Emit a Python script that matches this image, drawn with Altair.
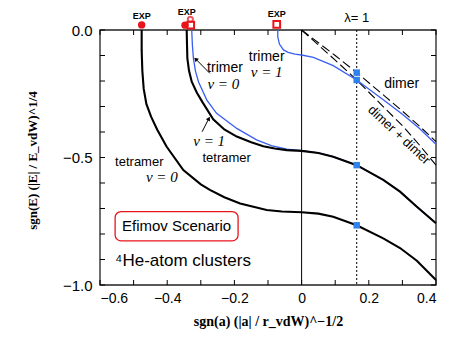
import altair as alt
import pandas as pd

# ---------------- data ----------------
tet0_x = [-0.476, -0.476, -0.474, -0.470, -0.462, -0.448, -0.430, -0.402, -0.352, -0.300,
          -0.273, -0.230, -0.183, -0.104, -0.059, 0.0, 0.05, 0.094, 0.164, 0.243, 0.293, 0.343, 0.4]
tet0_y = [0.0, -0.08, -0.16, -0.23, -0.29, -0.34, -0.39, -0.457, -0.549, -0.605,
          -0.627, -0.656, -0.680, -0.706, -0.712, -0.715, -0.720, -0.732, -0.766, -0.817, -0.855, -0.905, -0.98]

tet1_x = [-0.342, -0.341, -0.340, -0.335, -0.327, -0.312, -0.296, -0.263, -0.230, -0.193, -0.150,
          -0.114, -0.080, -0.044, 0.0, 0.05, 0.094, 0.164, 0.243, 0.293, 0.343, 0.4]
tet1_y = [0.0, -0.06, -0.111, -0.16, -0.203, -0.245, -0.281, -0.350, -0.390, -0.418, -0.440,
          -0.456, -0.465, -0.471, -0.474, -0.482, -0.497, -0.53, -0.588, -0.634, -0.693, -0.758]

tri0_x = [-0.327, -0.325, -0.322, -0.316, -0.307, -0.282, -0.253, -0.193, -0.134, -0.090, -0.044,
          0.0, 0.05, 0.094, 0.164, 0.243, 0.293, 0.343, 0.4]
tri0_y = [0.0, -0.06, -0.111, -0.16, -0.203, -0.275, -0.327, -0.386, -0.431, -0.453, -0.467,
          -0.473, -0.482, -0.497, -0.53, -0.588, -0.634, -0.693, -0.758]

tri1_x = [-0.071, -0.071, -0.066, -0.054, -0.040, -0.020, 0.0, 0.035, 0.094, 0.164, 0.25, 0.3, 0.35, 0.4]
tri1_y = [0.0, -0.026, -0.055, -0.078, -0.088, -0.095, -0.098, -0.107, -0.140, -0.196, -0.280, -0.330, -0.385, -0.448]

dimer_x = [0.0, 0.05, 0.1, 0.164, 0.25, 0.3, 0.35, 0.4]
dimer_y = [0.0, -0.05, -0.10, -0.167, -0.262, -0.318, -0.376, -0.438]

dd_x = [0.0, 0.1, 0.164, 0.25, 0.3, 0.35, 0.4]
dd_y = [0.0, -0.118, -0.196, -0.31, -0.375, -0.45, -0.53]

lam_x = 0.164
lam_pts_y = [-0.167, -0.196, -0.53, -0.766]

exp_fill_x = [-0.476, -0.347]
exp_fill_y = [0.020, 0.019]
exp_opencirc_x = [-0.331]
exp_opencirc_y = [0.042]
exp_opensq_x = [-0.330, -0.074]
exp_opensq_y = [0.019, 0.022]
exp_label_x = [-0.476, -0.342, -0.074]
exp_label_y = [0.056, 0.072, 0.064]

x_ticks = [-0.6, -0.5, -0.4, -0.3, -0.2, -0.1, 0.0, 0.1, 0.2, 0.3, 0.4]
x_labels = [-0.6, -0.4, -0.2, 0.0, 0.2, 0.4]
y_ticks = [-1.0, -0.9, -0.8, -0.7, -0.6, -0.5, -0.4, -0.3, -0.2, -0.1, 0.0]
y_labels = [-1.0, -0.5, 0.0]

# ---------------- layout ----------------
W, H = 336, 255
XMIN, XMAX, YMIN, YMAX = -0.6, 0.4, -1.0, 0.0
tlx = 5 / W * (XMAX - XMIN)
tly = 5 / H * (YMAX - YMIN)

xs = alt.Scale(domain=[XMIN, XMAX], nice=False, zero=False)
ys = alt.Scale(domain=[YMIN, YMAX], nice=False, zero=False)

XAXIS = alt.Axis(
    values=x_labels, ticks=False, domain=False, grid=False,
    labelExpr="datum.value == 0 ? '0' : format(datum.value, '.1f')",
    labelFontSize=14, labelFont="Liberation Sans", labelColor="black", labelPadding=6,
    title="sgn(a) (|a| / r_vdW)^−1/2", titleFont="Liberation Serif", titleFontSize=14,
    titleFontWeight="bold", titleColor="black", titleX=168, titleY=36,
    titleAlign="center", titleBaseline="middle")
YAXIS = alt.Axis(
    values=y_labels, ticks=False, domain=False, grid=False, format=".1f",
    labelFontSize=15, labelFont="Liberation Sans", labelColor="black", labelPadding=8,
    title="sgn(E) (|E| / E_vdW)^1/4", titleFont="Liberation Serif", titleFontSize=13,
    titleFontWeight="bold", titleColor="black", titleX=-68, titleY=130,
    titleAngle=-90, titleAlign="center", titleBaseline="middle")


def X(f="x"):
    return alt.X(f"{f}:Q", scale=xs, axis=XAXIS)


def Y(f="y"):
    return alt.Y(f"{f}:Q", scale=ys, axis=YAXIS)


def curve(xv, yv, name):
    return pd.DataFrame({"x": xv, "y": yv, "i": range(len(xv)), "s": name})


BLUE = "#3a5ff0"
SQ = "#2f82ee"
RED = "#e8141c"

# ticks (inward)
tick_df = pd.concat([
    pd.DataFrame({"x": x_ticks, "x2": x_ticks, "y": [YMIN] * len(x_ticks), "y2": [YMIN + tly] * len(x_ticks)}),
    pd.DataFrame({"x": x_ticks, "x2": x_ticks, "y": [YMAX] * len(x_ticks), "y2": [YMAX - tly] * len(x_ticks)}),
    pd.DataFrame({"x": [XMIN] * len(y_ticks), "x2": [XMIN + tlx] * len(y_ticks), "y": y_ticks, "y2": y_ticks}),
    pd.DataFrame({"x": [XMAX] * len(y_ticks), "x2": [XMAX - tlx] * len(y_ticks), "y": y_ticks, "y2": y_ticks}),
])
ticks = alt.Chart(tick_df).mark_rule(color="black", strokeWidth=1).encode(
    x=X(), x2="x2:Q", y=Y(), y2="y2:Q")

# frame
frame_df = pd.DataFrame({"x": [XMIN], "x2": [XMAX], "y": [YMIN], "y2": [YMAX]})
frame = alt.Chart(frame_df).mark_rect(fill=None, stroke="#222222", strokeWidth=1.3).encode(
    x=X(), x2="x2:Q", y=Y(), y2="y2:Q")

# vertical lines
vzero = alt.Chart(pd.DataFrame({"x": [0.0], "y": [YMAX], "y2": [YMIN]})).mark_rule(
    color="black", strokeWidth=1).encode(x=X(), y=Y(), y2="y2:Q")
vlam = alt.Chart(pd.DataFrame({"x": [lam_x], "y": [YMAX], "y2": [YMIN]})).mark_rule(
    color="black", strokeWidth=1, strokeDash=[2, 2]).encode(x=X(), y=Y(), y2="y2:Q")

# dashed dimer lines
dash_df = pd.concat([curve(dimer_x, dimer_y, "dimer"), curve(dd_x, dd_y, "dd")])
dashed = alt.Chart(dash_df).mark_line(color="black", strokeWidth=1.1, strokeDash=[9, 4]).encode(
    x=X(), y=Y(), order="i:Q", detail="s:N")

blue_df = pd.concat([curve(tri0_x, tri0_y, "t0"), curve(tri1_x, tri1_y, "t1")])
blue = alt.Chart(blue_df).mark_line(color=BLUE, strokeWidth=1.3).encode(
    x=X(), y=Y(), order="i:Q", detail="s:N")

black_df = pd.concat([curve(tet0_x, tet0_y, "q0"), curve(tet1_x, tet1_y, "q1")])
black = alt.Chart(black_df).mark_line(color="black", strokeWidth=2.1).encode(
    x=X(), y=Y(), order="i:Q", detail="s:N")

squares = alt.Chart(pd.DataFrame({"x": [lam_x] * len(lam_pts_y), "y": lam_pts_y})).mark_square(
    color=SQ, size=42, opacity=1).encode(x=X(), y=Y())

# EXP markers
exp_fill = alt.Chart(pd.DataFrame({"x": exp_fill_x, "y": exp_fill_y})).mark_circle(
    color=RED, size=55, opacity=1).encode(x=X(), y=Y())
exp_oc = alt.Chart(pd.DataFrame({"x": exp_opencirc_x, "y": exp_opencirc_y})).mark_point(
    shape="circle", color=RED, size=26, strokeWidth=2, filled=False).encode(x=X(), y=Y())
exp_sq = alt.Chart(pd.DataFrame({"x": exp_opensq_x, "y": exp_opensq_y})).mark_point(
    shape="square", color=RED, size=45, strokeWidth=2, filled=False, fill="white", fillOpacity=1).encode(x=X(), y=Y())
exp_lbl = alt.Chart(pd.DataFrame({"x": exp_label_x, "y": exp_label_y, "t": ["EXP"] * 3})).mark_text(
    font="Liberation Sans", fontSize=9, fontWeight="bold", color="black").encode(x=X(), y=Y(), text="t:N")

lam_lbl = alt.Chart(pd.DataFrame({"x": [lam_x], "y": [0.047], "t": ["λ= 1"]})).mark_text(
    font="Liberation Sans", fontSize=13, color="black").encode(x=X(), y=Y(), text="t:N")

# annotation texts
sans_df = pd.DataFrame({
    "x": [-0.228, -0.104, -0.223, -0.483, 0.298],
    "y": [-0.150, -0.107, -0.503, -0.516, -0.213],
    "t": ["trimer", "trimer", "tetramer", "tetramer", "dimer"],
    "fs": [14, 14, 13, 13, 14],
})
sans = alt.Chart(sans_df).mark_text(font="Liberation Sans", color="black").encode(
    x=X(), y=Y(), text="t:N", size=alt.Size("fs:Q", scale=None, legend=None))

serif_df = pd.DataFrame({
    "x": [-0.233, -0.104, -0.275, -0.416],
    "y": [-0.211, -0.164, -0.434, -0.578],
    "t": ["v = 0", "v = 1", "v = 1", "v = 0"],
})
serif = alt.Chart(serif_df).mark_text(font="Liberation Serif", fontStyle="italic", fontSize=15,
                                      color="black").encode(x=X(), y=Y(), text="t:N")

dd_lbl = alt.Chart(pd.DataFrame({"x": [0.290], "y": [-0.412], "t": ["dimer + dimer"]})).mark_text(
    font="Liberation Sans", fontSize=13, angle=43, color="black").encode(x=X(), y=Y(), text="t:N")

# arrows
arrow_df = pd.DataFrame({"x": [-0.273, -0.296], "y": [-0.170, -0.399],
                         "x2": [-0.312, -0.278], "y2": [-0.118, -0.352]})
arrow_lines = alt.Chart(arrow_df).mark_rule(color="black", strokeWidth=1).encode(
    x=X(), y=Y(), x2="x2:Q", y2="y2:Q")
head_df = pd.DataFrame({"x": [-0.315, -0.276], "y": [-0.114, -0.347], "a": [315, 28]})
arrow_heads = alt.Chart(head_df).mark_point(shape="triangle-up", filled=True, color="black",
                                            size=22, opacity=1).encode(
    x=X(), y=Y(), angle=alt.Angle("a:Q", scale=None))

# boxed labels
box = alt.Chart(pd.DataFrame({"x": [-0.555], "x2": [-0.189], "y": [-0.712], "y2": [-0.827]})).mark_rect(
    fill="white", stroke=RED, strokeWidth=1.3, cornerRadius=6).encode(x=X(), x2="x2:Q", y=Y(), y2="y2:Q")
box_txt = alt.Chart(pd.DataFrame({"x": [-0.372], "y": [-0.77], "t": ["Efimov Scenario"]})).mark_text(
    font="Liberation Sans", fontSize=15, color="black").encode(x=X(), y=Y(), text="t:N")
he_txt = alt.Chart(pd.DataFrame({"x": [-0.555], "y": [-0.905], "t": ["⁴He-atom clusters"]})).mark_text(
    font="Liberation Sans", fontSize=17, color="black", align="left").encode(x=X(), y=Y(), text="t:N")

chart = alt.layer(
    frame, ticks, vzero, vlam, dashed, blue, black, squares,
    exp_sq, exp_fill, exp_oc, exp_lbl, lam_lbl,
    sans, serif, dd_lbl, arrow_lines, arrow_heads, box, box_txt, he_txt,
).properties(
    width=W, height=H,
    autosize=alt.AutoSizeParams(type="none"),
    padding={"left": 92, "top": 22, "right": 19, "bottom": 61},
    background="white",
).configure_view(stroke=None)

chart.save("out.html", embed_options={"renderer": "svg", "actions": False})
